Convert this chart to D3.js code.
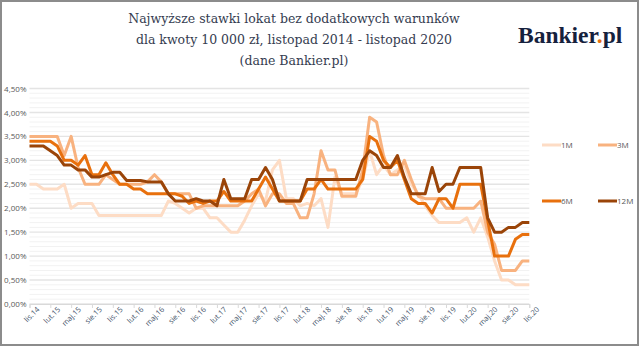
<!DOCTYPE html>
<html><head><meta charset="utf-8">
<script src="https://cdn.jsdelivr.net/npm/d3@7"></script>
<style>
html,body{margin:0;padding:0;background:#fff;}
svg{display:block;}
</style></head>
<body>
<svg id="c" width="640" height="347"></svg>
<script>
// months Nov 2014 .. Nov 2020 (73 points)
const tickLabels = ["lis.14","lut.15","maj.15","sie.15","lis.15","lut.16","maj.16","sie.16","lis.16","lut.17","maj.17","sie.17","lis.17","lut.18","maj.18","sie.18","lis.18","lut.19","maj.19","sie.19","lis.19","lut.20","maj.20","sie.20","lis.20"];
const yTicks = [0,0.5,1,1.5,2,2.5,3,3.5,4,4.5];
const seriesNames = ["1M","3M","6M","12M"];
const s1M = [2.5,2.5,2.4,2.4,2.4,2.5,2.0,2.1,2.1,2.1,1.85,1.85,1.85,1.85,1.85,1.85,1.85,1.85,1.85,1.85,2.15,2.1,2.0,1.9,2.0,2.0,1.8,1.8,1.65,1.5,1.5,1.75,2.05,2.3,2.15,2.8,3.0,2.2,2.2,2.05,2.1,2.05,2.2,1.6,2.65,2.3,2.3,2.3,2.6,3.2,2.7,2.9,2.7,2.8,2.9,2.5,2.3,2.05,1.85,1.7,1.7,1.7,1.7,1.8,1.5,1.8,1.4,0.9,0.5,0.5,0.4,0.4,0.4];
const s3M = [3.5,3.5,3.5,3.5,3.5,3.1,3.5,2.85,2.5,2.5,2.5,2.7,2.6,2.5,2.5,2.5,2.5,2.55,2.7,2.55,2.3,2.3,2.3,2.3,2.0,2.05,2.05,2.05,2.05,2.05,2.05,2.15,2.3,2.4,2.05,2.3,2.3,2.1,2.1,1.8,1.8,2.3,3.2,2.8,2.8,2.25,2.25,2.25,2.8,3.9,3.8,3.1,2.7,2.7,3.0,2.6,2.25,2.2,2.2,2.2,2.0,2.0,2.0,2.0,2.0,2.15,1.5,1.25,0.7,0.7,0.7,0.9,0.9];
const s6M = [3.4,3.4,3.4,3.4,3.3,3.0,3.0,2.9,3.1,2.7,2.7,2.95,2.7,2.5,2.5,2.4,2.4,2.3,2.3,2.3,2.3,2.3,2.25,2.1,2.15,2.1,2.15,2.15,2.35,2.15,2.15,2.15,2.15,2.4,2.65,2.4,2.15,2.15,2.15,2.15,2.4,2.4,2.6,2.4,2.4,2.4,2.4,2.4,2.6,3.5,3.4,3.0,2.85,3.0,2.6,2.2,2.1,2.1,1.9,2.2,2.2,2.0,2.5,2.5,2.5,2.5,1.75,1.0,1.0,1.0,1.35,1.45,1.45];
const s12M = [3.3,3.3,3.3,3.2,3.1,2.9,2.9,2.8,2.8,2.65,2.65,2.7,2.75,2.75,2.58,2.58,2.58,2.55,2.55,2.55,2.3,2.15,2.15,2.15,2.2,2.15,2.15,2.05,2.6,2.2,2.2,2.2,2.6,2.6,2.85,2.6,2.15,2.15,2.15,2.15,2.6,2.6,2.6,2.6,2.6,2.6,2.6,2.6,3.0,3.2,3.1,2.85,2.85,3.1,2.65,2.3,2.3,2.3,2.85,2.35,2.5,2.5,2.85,2.85,2.85,2.85,1.8,1.5,1.5,1.6,1.6,1.7,1.7];
const seriesValues = [s1M,s3M,s6M,s12M];
const colors = ["#fddcc5","#f8b27f","#e8700d","#9a4408"];

const svg = d3.select("#c");
const x = d3.scaleLinear().domain([0,72]).range([29.5,529.3]);
const y = d3.scaleLinear().domain([0,4.5]).range([304,88.5]);

// outer border
svg.append("rect").attr("x",1).attr("y",1).attr("width",637).attr("height",344)
  .attr("fill","#fff").attr("stroke","#8c8c8c").attr("stroke-width",2);

// title
const title = ["Najwyższe stawki lokat bez dodatkowych warunków","dla kwoty 10 000 zł, listopad 2014 - listopad 2020","(dane Bankier.pl)"];
svg.selectAll("text.title").data(title).enter().append("text")
  .attr("class","title")
  .attr("x",294).attr("y",(d,i)=>23+i*21)
  .attr("text-anchor","middle")
  .attr("font-family","'DejaVu Serif', serif")
  .attr("font-size",12.5)
  .attr("fill","#353c50")
  .text(d=>d);

// logo
const logo = svg.append("text").attr("x",518).attr("y",43)
  .attr("font-family","'Liberation Serif', serif").attr("font-weight","bold")
  .attr("font-size",23.5).attr("fill","#15213d");
logo.append("tspan").text("Bankier");
logo.append("tspan").attr("fill","#e8700d").text(".");
logo.append("tspan").text("pl");

// gridlines: minor every 0.1, major every 0.5
const minor = d3.range(0,46).map(d=>d/10);
svg.append("g").selectAll("line").data(minor).enter().append("line")
  .attr("x1",29.5).attr("x2",529.3)
  .attr("y1",d=>y(d)).attr("y2",d=>y(d))
  .attr("stroke",(d,i)=> i%5===0 ? "#e4e4e4" : "#f2f2f2")
  .attr("stroke-width",(d,i)=> i%5===0 ? 1.4 : 1);

// y axis labels
const yAxis = d3.axisLeft(y).tickValues(yTicks).tickSize(0).tickPadding(3)
  .tickFormat(d=>d3.format(".2f")(d).replace(".",",")+"%");
const ga = svg.append("g").attr("transform","translate(29.5,0)").call(yAxis);
ga.select(".domain").remove();
ga.selectAll("text").attr("font-family","'Open Sans', sans-serif").attr("font-size",8).attr("fill","#595959");

// x axis
const xAxis = d3.axisBottom(x).tickValues(d3.range(0,73,3)).tickSize(4)
  .tickFormat((d,i)=>tickLabels[i]);
const gx = svg.append("g").attr("transform","translate(0,304)").call(xAxis);
gx.select(".domain").attr("stroke","#d9d9d9");
gx.selectAll(".tick line").attr("stroke","#d9d9d9");
gx.selectAll("text").attr("font-family","'Open Sans', sans-serif").attr("font-size",7.5)
  .attr("fill","#44546a").attr("text-anchor","end")
  .attr("transform","translate(2,-2) rotate(-45)").attr("dy","0.7em").attr("y",6);

// lines
const line = d3.line().x((d,i)=>x(i)).y(d=>y(d));
svg.append("g").selectAll("path").data(seriesValues).enter().append("path")
  .attr("d",d=>line(d)).attr("fill","none")
  .attr("stroke",(d,i)=>colors[i]).attr("stroke-width",3)
  .attr("stroke-linejoin","round");

// legend
const legPos = [[542,145],[598,145],[542,201],[598,201]];
const lg = svg.append("g");
seriesNames.forEach((n,i)=>{
  lg.append("line").attr("x1",legPos[i][0]).attr("x2",legPos[i][0]+19)
    .attr("y1",legPos[i][1]).attr("y2",legPos[i][1])
    .attr("stroke",colors[i]).attr("stroke-width",3);
  lg.append("text").attr("x",legPos[i][0]+19).attr("y",legPos[i][1]+3)
    .attr("font-family","'Open Sans', sans-serif").attr("font-size",8).attr("fill","#595959").text(n);
});
</script>
</body></html>
